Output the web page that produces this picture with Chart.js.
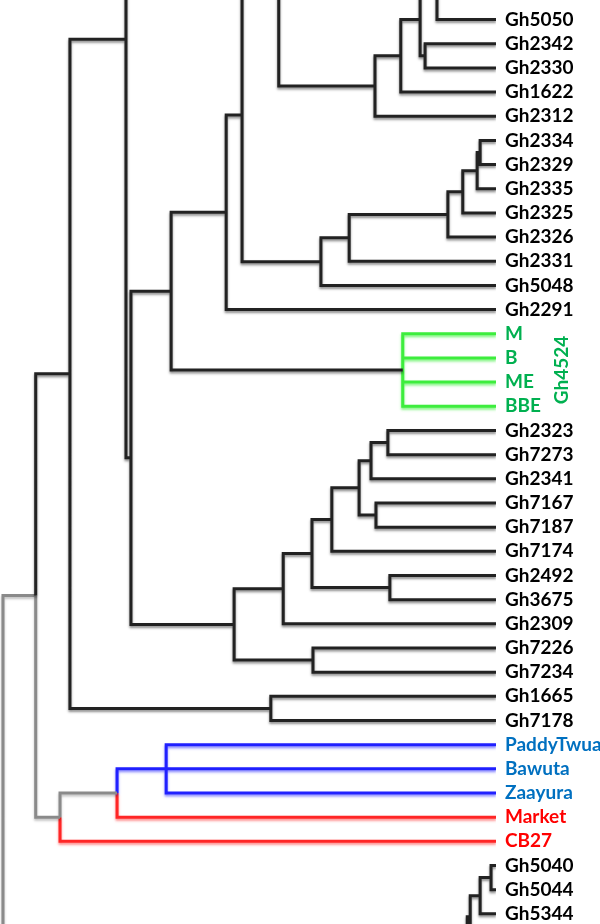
<!DOCTYPE html>
<html>
<head>
<meta charset="utf-8">
<script src="https://cdn.jsdelivr.net/npm/chart.js@4.4.1/dist/chart.umd.min.js"></script>
<style>
    html, body { margin: 0; padding: 0; background: #fff; }
    #wrap { width: 600px; height: 924px; position: relative; }
</style>
</head>
<body>
<div id="wrap"><canvas id="treeChart"></canvas></div>
<script>
// Dendrogram (cropped view) drawn with Chart.js scatter lines

// leaf labels, top to bottom; the array index is the row on the y axis
const leafNames = [
    'Gh5050', 'Gh2342', 'Gh2330', 'Gh1622', 'Gh2312', 'Gh2334', 'Gh2329', 'Gh2335',
    'Gh2325', 'Gh2326', 'Gh2331', 'Gh5048', 'Gh2291', 'M', 'B', 'ME', 'BBE',
    'Gh2323', 'Gh7273', 'Gh2341', 'Gh7167', 'Gh7187', 'Gh7174', 'Gh2492', 'Gh3675',
    'Gh2309', 'Gh7226', 'Gh7234', 'Gh1665', 'Gh7178', 'PaddyTwua', 'Bawuta', 'Zaayura',
    'Market', 'CB27', 'Gh5040', 'Gh5044', 'Gh5344'
];

// coloured label groups (rows)
const greenRows = [13, 14, 15, 16];
const blueRows = [30, 31, 32];
const redRows = [33, 34];
const groupName = 'Gh4524';

// merges: [id, upper child, lower child, height]
// numbers are leaf rows (rows < 0 or > 37 are outside the cropped picture),
// strings are merges listed earlier
const merges = [
    ['L', -3, 0, 0.119],
    ['K', 1, 2, 0.143],
    ['J', 'L', 'K', 0.153],
    ['I', 'J', 3, 0.192],
    ['H', 'I', 4, 0.244],
    ['F', -7, 'H', 0.438],
    ['a', 5, 6, 0.032],
    ['b', 'a', 7, 0.038],
    ['c', 'b', 8, 0.067],
    ['O', 'c', 9, 0.097],
    ['N', 'O', 10, 0.296],
    ['M', 'N', 11, 0.353],
    ['E', 'F', 'M', 0.512],
    ['D', 'E', 12, 0.544],
    ['g1', 13, 14, 0.188],
    ['g2', 15, 16, 0.188],
    ['G', 'g1', 'g2', 0.188],
    ['C', 'D', 'G', 0.655],
    ['n388', 17, 18, 0.218],
    ['n371', 'n388', 19, 0.252],
    ['n376', 20, 21, 0.242],
    ['n359', 'n371', 'n376', 0.276],
    ['n332', 'n359', 22, 0.331],
    ['n390', 23, 24, 0.214],
    ['n312', 'n332', 'n390', 0.371],
    ['n283', 'n312', 25, 0.429],
    ['n313', 26, 27, 0.369],
    ['n234', 'n283', 'n313', 0.528],
    ['A', 'C', 'n234', 0.736],
    ['Y', -17, -16, 0.40],
    ['P110', 'Y', 'A', 0.746],
    ['W', 28, 29, 0.454],
    ['B61', 'P110', 'W', 0.859],
    ['P', 30, 32, 0.665],
    ['Q', 31, 'P', 0.762],
    ['R', 'Q', 33, 0.764],
    ['S', 'R', 34, 0.879],
    ['T', 'B61', 'S', 0.928],
    ['root', 'T', 60, 0.994],
    ['u1', 35, 36, 0.010],
    ['u2', 'u1', 37, 0.032],
    ['u3', 'u2', 38, 0.052],
    ['u4', 'u3', 39, 0.058]
];

// branches (the line above a merge or leaf) drawn in colour
const grayBranches = ['T', 'S', 'R', 60];
const greenBranches = ['g1', 'g2', 13, 14, 15, 16];
const blueBranches = ['Q', 'P', 30, 31, 32];
const redBranches = [33, 34];

// visible row window of the crop
const rowMin = -0.81;
const rowMax = 37.42;

const lineColors = {
    dark: '#222222',
    gray: '#8a8a8a',
    green: '#3ded3d',
    blue: '#2020ff',
    red: '#ff2626'
};
const glowColors = {
    dark: 'rgba(0, 0, 0, 0.45)',
    gray: 'rgba(0, 0, 0, 0.25)',
    green: 'rgba(60, 240, 60, 0.65)',
    blue: 'rgba(40, 40, 255, 0.55)',
    red: 'rgba(255, 40, 40, 0.55)'
};

function labelColor(row) {
    if (greenRows.includes(row)) return '#00b050';
    if (blueRows.includes(row)) return '#0070c0';
    if (redRows.includes(row)) return '#ff0000';
    return '#000000';
}

function branchColor(ref) {
    if (grayBranches.includes(ref)) return 'gray';
    if (greenBranches.includes(ref)) return 'green';
    if (blueBranches.includes(ref)) return 'blue';
    if (redBranches.includes(ref)) return 'red';
    return 'dark';
}

const rowOf = {};
const heightOf = {};
const rowFor = ref => typeof ref === 'number' ? ref : rowOf[ref];
const heightFor = ref => typeof ref === 'number' ? 0 : heightOf[ref];

const lines = { dark: [], gray: [], green: [], blue: [], red: [] };
const gap = { x: null, y: null };

merges.forEach(([id, up, down, h]) => {
    const yUp = rowFor(up);
    const yDown = rowFor(down);
    const yMid = (yUp + yDown) / 2;
    rowOf[id] = yMid;
    heightOf[id] = h;
    lines[branchColor(up)].push(
        { x: heightFor(up), y: yUp }, { x: h, y: yUp }, { x: h, y: yMid }, gap
    );
    lines[branchColor(down)].push(
        { x: h, y: yMid }, { x: h, y: yDown }, { x: heightFor(down), y: yDown }, gap
    );
});

const datasets = Object.keys(lines).map(key => ({
    label: key,
    data: lines[key],
    showLine: true,
    spanGaps: false,
    borderColor: lineColors[key],
    borderWidth: 3,
    borderJoinStyle: 'miter',
    borderCapStyle: 'butt',
    pointRadius: 0,
    pointHoverRadius: 0,
    glow: glowColors[key]
}));

const glowPlugin = {
    id: 'glow',
    beforeDatasetDraw(chart, args) {
        const ctx = chart.ctx;
        ctx.save();
        ctx.shadowColor = chart.data.datasets[args.index].glow;
        ctx.shadowBlur = 2.5;
        ctx.shadowOffsetY = 2;
    },
    afterDatasetDraw(chart) {
        chart.ctx.restore();
    }
};

const groupLabelPlugin = {
    id: 'groupLabel',
    afterDraw(chart) {
        const ctx = chart.ctx;
        const y = chart.scales.y;
        const mid = (greenRows[0] + greenRows[greenRows.length - 1]) / 2;
        ctx.save();
        ctx.translate(y.left + 66, y.getPixelForValue(mid));
        ctx.rotate(-Math.PI / 2);
        ctx.font = 'bold 19px Lato';
        ctx.fillStyle = '#00b050';
        ctx.textAlign = 'center';
        ctx.textBaseline = 'middle';
        ctx.fillText(groupName, 0, 0);
        ctx.restore();
    }
};

new Chart(document.getElementById('treeChart'), {
    type: 'scatter',
    data: { datasets },
    options: {
        responsive: true,
        maintainAspectRatio: false,
        animation: false,
        events: [],
        layout: { padding: 0 },
        plugins: {
            legend: { display: false },
            tooltip: { enabled: false }
        },
        scales: {
            x: {
                type: 'linear',
                reverse: true,
                min: 0,
                max: 1,
                display: false
            },
            y: {
                type: 'linear',
                position: 'right',
                reverse: true,
                min: rowMin,
                max: rowMax,
                grid: { display: false, drawTicks: false },
                border: { display: false },
                afterBuildTicks: scale => {
                    scale.ticks = leafNames.map((_, i) => ({ value: i }));
                },
                afterFit: scale => {
                    scale.width = 104;
                    scale.paddingTop = 0;
                    scale.paddingBottom = 0;
                },
                ticks: {
                    autoSkip: false,
                    padding: 9,
                    font: { family: 'Lato', weight: 'bold', size: 19 },
                    color: c => labelColor(c.tick.value),
                    callback: value => leafNames[value]
                }
            }
        }
    },
    plugins: [glowPlugin, groupLabelPlugin]
});
</script>
</body>
</html>
